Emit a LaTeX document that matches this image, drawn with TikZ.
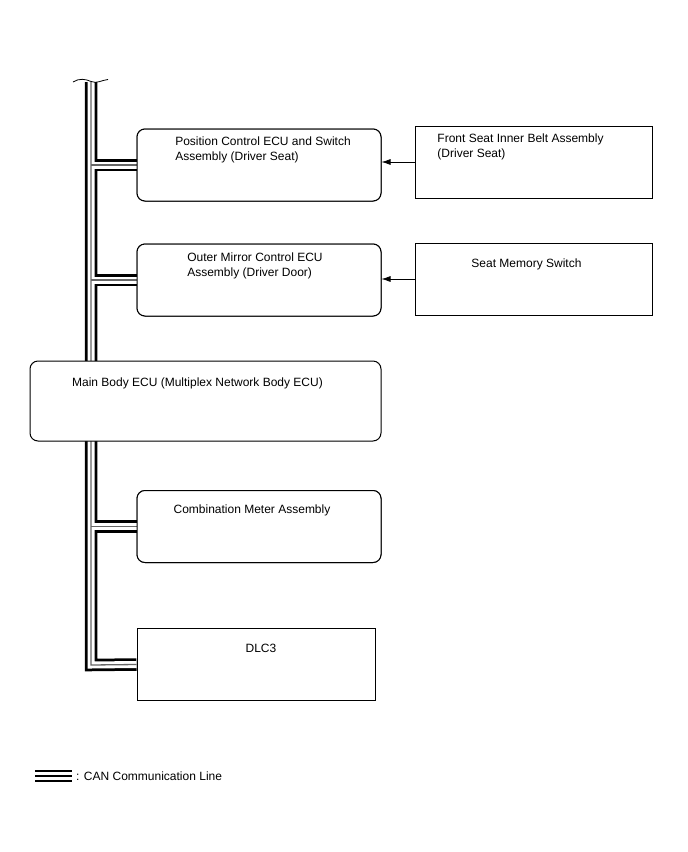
\documentclass[tikz,border=0pt]{standalone}
\usepackage{fontspec}
\setmainfont{Liberation Sans}
\usetikzlibrary{arrows.meta,positioning,calc}
\definecolor{cbus}{HTML}{666666}
\tikzset{
  ecu/.style={draw, line width=1pt, rounded corners=8pt, fill=white, minimum width=244, minimum height=72, inner sep=0pt},
  part/.style={draw, line width=1pt, fill=white, minimum width=237, minimum height=72, inner sep=0pt},
  txt/.style={font=\fontsize{12}{15}\selectfont, align=left, anchor=north, inner sep=0pt},
  sig/.style={-{Latex[length=9pt,width=6pt]}, line width=0.8pt},
  busout/.style={line width=12.5pt, black, line join=miter},
  busin/.style={line width=7pt, white, line join=miter},
  buscore/.style={line width=1.3pt, cbus, line join=miter},
}
\begin{document}
\begin{tikzpicture}[x=1pt,y=-1pt]
\useasboundingbox (0,0) rectangle (688,852);
% bus end points
\coordinate (bustop) at (91,82);
\coordinate (busend) at (91,665);
% boxes on the left
\node[ecu] (pos) at (259,165) {};
\node[ecu] (mirror) at (259,280) {};
\node[ecu] (meter) at (259,526.5) {};
\node[part, minimum width=238] (dlc) at (256,664.5) {};
% CAN bus, drawn under the boxes
\foreach \s in {busout,busin,buscore}{
  \draw[\s] (bustop) -- (busend) -- (dlc.west);
  \foreach \b in {pos,mirror,meter}
    \draw[\s] (bustop |- \b.west) -- (\b.west);
}
\draw[line width=0.8pt] (73,82) .. controls (79,78) and (86,79) .. (91,81.5) .. controls (97,84) and (102,80) .. (108,79.5);
% boxes again on top of the bus
\node[ecu] at (pos) {};
\node[ecu] at (mirror) {};
\node[ecu] at (meter) {};
\node[part, minimum width=238] at (dlc) {};
\node[ecu, minimum width=351, minimum height=80] (body) at (205.5,401) {};
% boxes on the right
\node[part] (belt) at (533.5,162) {};
\node[part] (memory) at (533.5,279) {};
% texts
\node[txt] at ([xshift=4pt,yshift=-8pt]pos.north) {Position Control ECU and Switch\\Assembly (Driver Seat)};
\node[txt] at ([xshift=-4pt,yshift=-9pt]mirror.north) {Outer Mirror Control ECU\\Assembly (Driver Door)};
\node[txt] at ([xshift=-13pt,yshift=-8pt]belt.north) {Front Seat Inner Belt Assembly\\(Driver Seat)};
\node[txt] at ([xshift=-7pt,yshift=-16pt]memory.north) {Seat Memory Switch};
\node[txt] at ([xshift=-8pt,yshift=-17pt]body.north) {Main Body ECU (Multiplex Network Body ECU)};
\node[txt] at ([xshift=-7pt,yshift=-15pt]meter.north) {Combination Meter Assembly};
\node[txt] at ([xshift=5pt,yshift=-16pt]dlc.north) {DLC3};
% signals
\draw[sig] (belt.west) -- (pos.east |- belt.west);
\draw[sig] (memory.west) -- (mirror.east |- memory.west);
% legend
\node[font=\fontsize{12}{14}\selectfont, anchor=west, inner sep=0pt] (legend) at (76,776) {: CAN Communication Line};
\coordinate (legendline) at (35,776);
\draw[line width=2pt] ([yshift=-5pt]legendline) -- ([xshift=-4pt,yshift=-5pt]legend.west);
\draw[line width=1.6pt] (legendline) -- ([xshift=-4pt]legend.west);
\draw[line width=2pt] ([yshift=5pt]legendline) -- ([xshift=-4pt,yshift=5pt]legend.west);
\end{tikzpicture}
\end{document}
